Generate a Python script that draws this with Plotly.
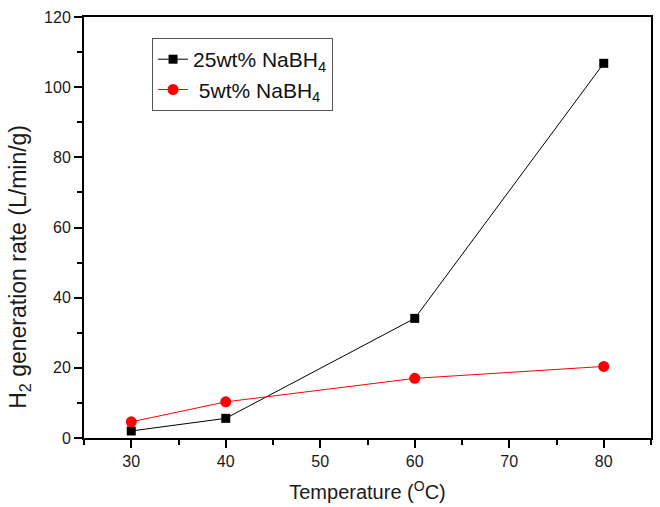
import plotly.graph_objects as go

# Reaction temperature (°C)
temperature = [30, 40, 60, 80]
# H2 generation rate (L/min/g) for each NaBH4 concentration
rate_25wt = [2.0, 5.6, 34.1, 106.8]
rate_5wt = [4.6, 10.3, 17.0, 20.4]

series_names = ["25wt% NaBH<sub>4</sub>", " 5wt% NaBH<sub>4</sub>"]
x_title = "Temperature (<sup>O</sup>C)"
y_title = "H<sub>2</sub> generation rate (L/min/g)"

font_family = "Liberation Sans, Arial, sans-serif"
text_color = "#1a1a1a"

fig = go.Figure()
fig.add_trace(go.Scatter(
    x=temperature, y=rate_25wt, name=series_names[0],
    mode="lines+markers",
    line=dict(color="black", width=1),
    marker=dict(symbol="square", size=9, color="black"),
))
fig.add_trace(go.Scatter(
    x=temperature, y=rate_5wt, name=series_names[1],
    mode="lines+markers",
    line=dict(color="red", width=1),
    marker=dict(symbol="circle", size=11, color="red"),
))

axis_common = dict(
    showgrid=False, zeroline=False,
    showline=True, linecolor="black", linewidth=2, mirror=True,
    ticks="outside", ticklen=8, tickwidth=2, tickcolor="black",
    tickfont=dict(family=font_family, size=16, color=text_color),
)
minor_ticks = dict(ticks="outside", ticklen=5, tickwidth=2, tickcolor="black")

fig.update_xaxes(
    range=[25, 85], tick0=30, dtick=10,
    minor=dict(dtick=5, tick0=25, **minor_ticks),
    title=dict(text=x_title, font=dict(family=font_family, size=20, color=text_color), standoff=16),
    **axis_common,
)
fig.update_yaxes(
    range=[0, 120], tick0=0, dtick=20,
    minor=dict(dtick=10, tick0=0, **minor_ticks),
    **axis_common,
)

# Vertical y-axis title, placed as a rotated annotation
fig.add_annotation(
    text=y_title, textangle=-90, showarrow=False,
    xref="paper", yref="paper", x=-0.115, y=(438 - 267) / 421,
    xanchor="center", yanchor="middle",
    font=dict(family=font_family, size=23, color=text_color),
)

fig.update_layout(
    width=660, height=507,
    margin=dict(l=84, r=7, t=17, b=69),
    plot_bgcolor="white", paper_bgcolor="white",
    showlegend=True,
    legend=dict(
        x=0.12, y=0.95, xanchor="left", yanchor="top",
        bordercolor="#555", borderwidth=1, bgcolor="white",
        font=dict(family=font_family, size=21, color="#111"),
        itemwidth=30,
    ),
)

fig.write_html("out.html")
